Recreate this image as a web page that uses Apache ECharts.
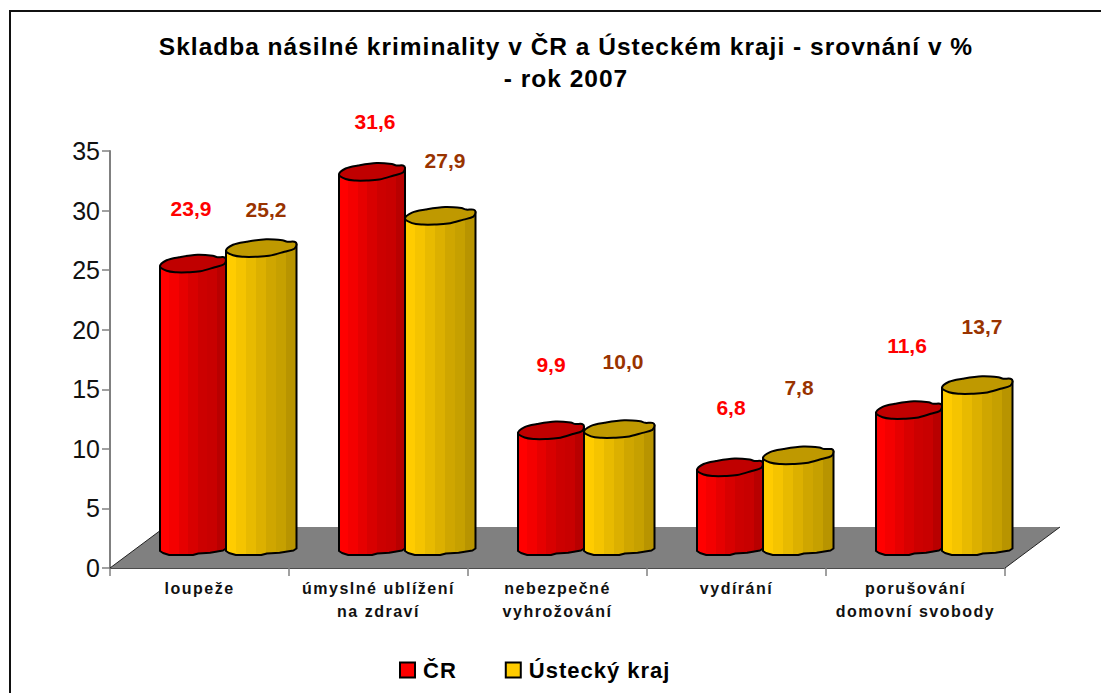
<!DOCTYPE html>
<html>
<head>
<meta charset="utf-8">
<style>
html,body{margin:0;padding:0;background:#fff}
#c{width:1101px;height:693px}
#c text[style*="24.5px"]{letter-spacing:1px}
#c text[style*="16px"]{letter-spacing:1.5px}
#c text[style*="22px"]{letter-spacing:1px}
</style>
<script src="https://cdn.jsdelivr.net/npm/echarts@6/dist/echarts.min.js"></script>
</head>
<body>
<div id="c"></div>
<script>
const categories = ['loupeže', 'úmyslné ublížení\nna zdraví', 'nebezpečné\nvyhrožování', 'vydírání', 'porušování\ndomovní svobody'];
const crValues = [23.9, 31.6, 9.9, 6.8, 11.6];
const usteckyValues = [25.2, 27.9, 10.0, 7.8, 13.7];
const yTicks = {min: 0, max: 35, interval: 5};
const titleText = 'Skladba násilné kriminality v ČR a Ústeckém kraji - srovnání v %\n- rok 2007';
const crName = 'ČR';
const usteckyName = 'Ústecký kraj';

// Presentation settings (where each label floats relative to its cylinder)
const crLabelLift = [54, 50, 65, 59, 64];
const usteckyLabelLift = [38, 55, 67, 67, 58];
const crLabelShift = [0, 5, 2, 3, 0];
const usteckyLabelShift = [0, 0, -1, -4, 0];
const depthX = 55, depthY = 41, barLift = 20.5;
const redSteps = ['#ff0000', '#f40000', '#e60000', '#d80000', '#cc0000', '#c80000', '#b80000'];
const yellowSteps = ['#ffcc00', '#f5c400', '#e8ba00', '#dcb000', '#cfa600', '#c6a000', '#b89400'];

function stepped(colors) {
  const stops = [];
  colors.forEach((c, i) => {
    stops.push({offset: i / colors.length, color: c});
    stops.push({offset: (i + 1) / colors.length, color: c});
  });
  return new echarts.graphic.LinearGradient(0, 0, 1, 0, stops);
}

// outline of the slightly irregular cylinder cap, as fractions of width and px from cap centre
const capShape = [[0,3.5],[.1,-2.5],[.29,-5.5],[.57,-8],[.8,-7],[.87,-5.5],[.97,-5.5],[1,-3],
                  [.97,1.5],[.83,4.5],[.61,8.5],[.42,9.5],[.25,9.5],[.1,8]];

function cylinder(offL, offR, values, lifts, shifts, steps, capColor, labelColor) {
  return function (params, api) {
    const i = api.value(0);
    const v = api.value(1);
    const c = api.coord([i, v]);
    const b0 = api.coord([i, 0]);
    const xl = c[0] + offL, xr = c[0] + offR, w = xr - xl;
    const t = c[1] - barLift, b = b0[1] - barLift;
    const body = [[xl, t + 3.5], [xr, t - 3], [xr, b + 1], [xr - 3, b + 3], [xr - w * .24, b + 5.2],
      [xr - w * .3, b + 5.5], [xr - w * .42, b + 6], [xl + w * .5, b + 7.5], [xl + w * .14, b + 7.5], [xl + 3, b + 5.5], [xl, b + 3.5]];
    return {
      type: 'group',
      children: [
        {type: 'polygon', shape: {points: body},
          style: {fill: stepped(steps), stroke: '#000', lineWidth: 2, lineJoin: 'round'}},
        {type: 'polygon', shape: {points: capShape.map(p => [xl + p[0] * w, t + p[1]]), smooth: 0.35},
          style: {fill: capColor, stroke: '#000', lineWidth: 2}},
        {type: 'text', style: {
          text: values[i].toFixed(1).replace('.', ','),
          x: xl + (offL < 0 ? 31 : 40) + shifts[i], y: t - lifts[i],
          align: 'center', verticalAlign: 'middle',
          fill: labelColor, font: 'bold 21px "Liberation Sans", Arial, sans-serif'}}
      ]
    };
  };
}

function floor(params, api) {
  const a = api.coord([0, 0]);
  const left = params.coordSys.x, right = left + params.coordSys.width, y = a[1];
  return {
    type: 'group',
    children: [
      {type: 'polygon', shape: {points: [[left, y], [right, y], [right + depthX, y - depthY], [left + depthX, y - depthY]]},
        style: {fill: '#808080'}},
      {type: 'polyline', shape: {points: [[left + depthX, y - depthY], [left, y]]},
        style: {fill: 'none', stroke: '#222', lineWidth: 1}},
      {type: 'polyline', shape: {points: [[right, y], [right + depthX, y - depthY]]},
        style: {fill: 'none', stroke: '#222', lineWidth: 1}}
    ]
  };
}

const chart = echarts.init(document.getElementById('c'), null, {renderer: 'svg', width: 1101, height: 693});
const font = '"Liberation Sans", Arial, sans-serif';
chart.setOption({
  animation: false,
  backgroundColor: '#fff',
  title: {
    text: titleText, left: 561, top: 25, textAlign: 'center',
    textStyle: {fontFamily: font, fontWeight: 'bold', fontSize: 24.5, lineHeight: 32, color: '#000'}
  },
  legend: {
    left: 394, top: 654, itemWidth: 15, itemHeight: 15, itemGap: 50,
    selectedMode: false,
    textStyle: {fontFamily: font, fontWeight: 'bold', fontSize: 22, color: '#000', padding: [0, 0, 0, 3]},
    data: [
      {name: crName, icon: 'rect', itemStyle: {color: '#ff0000', borderColor: '#000', borderWidth: 2}},
      {name: usteckyName, icon: 'rect', itemStyle: {color: '#ffcc00', borderColor: '#000', borderWidth: 2}}
    ]
  },
  grid: {left: 110, top: 151, width: 895, height: 417},
  xAxis: {
    type: 'category', data: categories, boundaryGap: true,
    axisLine: {lineStyle: {color: '#111', width: 1.5}},
    axisTick: {show: true, length: 8, alignWithLabel: false, lineStyle: {color: '#808080', width: 1.5}},
    axisLabel: {interval: 0, margin: 9, color: '#111', fontFamily: font, fontWeight: 'bold', fontSize: 16, lineHeight: 23}
  },
  yAxis: {
    type: 'value', min: yTicks.min, max: yTicks.max, interval: yTicks.interval,
    splitLine: {show: false},
    axisLine: {show: true, lineStyle: {color: '#808080', width: 2}},
    axisTick: {show: true, length: 8, lineStyle: {color: '#808080', width: 1.5}},
    axisLabel: {margin: 10, color: '#111', fontFamily: font, fontSize: 25}
  },
  graphic: [{
    type: 'rect', silent: true, z: -1,
    shape: {x: 10, y: 11, width: 1300, height: 900},
    style: {fill: 'none', stroke: '#111', lineWidth: 2}
  }],
  series: [
    {type: 'custom', name: 'floor', silent: true, z: 1, clip: false, renderItem: floor, data: [[0, 0]], encode: {x: 0, y: 1}},
    {type: 'custom', name: crName, z: 2, clip: false, itemStyle: {color: '#ff0000'},
      renderItem: cylinder(-39.5, 26.5, crValues, crLabelLift, crLabelShift, redSteps, '#c00000', '#ff0000'),
      data: crValues.map((v, i) => [i, v]), encode: {x: 0, y: 1}},
    {type: 'custom', name: usteckyName, z: 3, clip: false, itemStyle: {color: '#ffcc00'},
      renderItem: cylinder(26.5, 97, usteckyValues, usteckyLabelLift, usteckyLabelShift, yellowSteps, '#bf9900', '#993300'),
      data: usteckyValues.map((v, i) => [i, v]), encode: {x: 0, y: 1}}
  ]
});
</script>
</body>
</html>
